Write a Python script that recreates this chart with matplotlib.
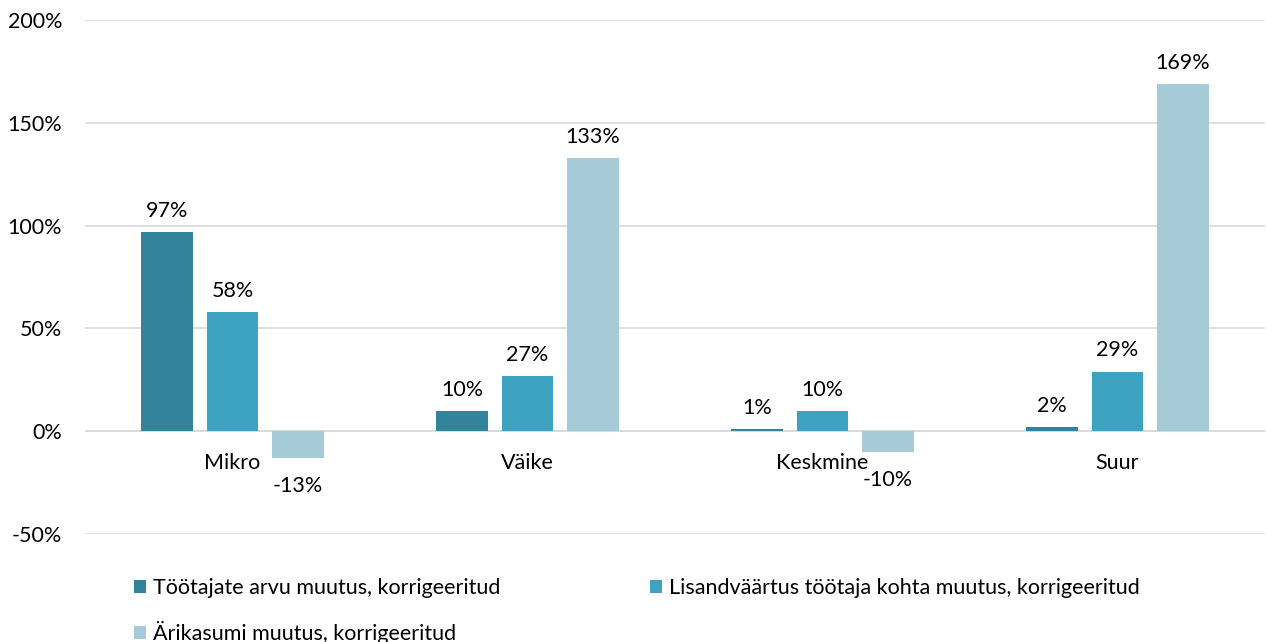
import matplotlib
matplotlib.use("Agg")
import matplotlib.pyplot as plt
import numpy as np
from matplotlib.ticker import FuncFormatter

categories = ["Mikro", "Väike", "Keskmine", "Suur"]
series_names = ["Töötajate arvu muutus, korrigeeritud",
                "Lisandväärtus töötaja kohta muutus, korrigeeritud",
                "Ärikasumi muutus, korrigeeritud"]
tootajad = [97, 10, 1, 2]
lisandvaartus = [58, 27, 10, 29]
arikasum = [-13, 133, -10, 169]
yticks = [-50, 0, 50, 100, 150, 200]

colors = ["#31849B", "#3DA3C1", "#A5CAD8"]
FS = 15.5

plt.rcParams['font.family'] = ['Lato', 'DejaVu Sans']
fig = plt.figure(figsize=(12.66, 6.42), dpi=100)
ax = fig.add_axes([85/1266, 1-534/642, 1180/1266, (534-20)/642])

x = np.arange(len(categories))
pitch = 0.222
width = 0.176
all_series = [tootajad, lisandvaartus, arikasum]
handles = []
for i, (vals, name, c) in enumerate(zip(all_series, series_names, colors)):
    pos = x + (i - 1) * pitch
    h = ax.bar(pos, vals, width=width, color=c, label=name, zorder=3)
    handles.append(h)
    for p, v in zip(pos, vals):
        if v >= 0:
            ax.annotate(f"{v}%", (p, v), xytext=(0, 8), textcoords="offset points",
                        ha="center", va="bottom", fontsize=FS, color="#000000")
        else:
            ax.annotate(f"{v}%", (p, v), xytext=(0, -13), textcoords="offset points",
                        ha="center", va="top", fontsize=FS, color="#000000")

ax.set_xlim(-0.5, 3.5)
ax.set_ylim(-50, 200)
ax.set_yticks(yticks)
ax.yaxis.set_major_formatter(FuncFormatter(lambda v, p: f"{int(v)}%"))
ax.tick_params(axis="y", length=0, labelsize=FS, pad=16.5)
ax.set_xticks([])
for c, name in zip(x, categories):
    ax.annotate(name, (c, 0), xytext=(0, -16), textcoords="offset points",
                ha="center", va="top", fontsize=FS)
ax.grid(axis="y", color="#D9D9D9", linewidth=1.2, zorder=0)
ax.axhline(0, color="#D9D9D9", linewidth=1.2, zorder=1)
for s in ax.spines.values():
    s.set_visible(False)

order = [0, 2, 1]
fig.legend([handles[k] for k in order], [series_names[k] for k in order],
           loc="upper left", bbox_to_anchor=(134/1266, 1-578/642), ncol=2,
           frameon=False, fontsize=FS, handlelength=0.55, handleheight=0.55,
           handletextpad=0.35, columnspacing=6.93, labelspacing=1.08,
           borderpad=0, borderaxespad=0)

fig.savefig("out.png", dpi=100)
